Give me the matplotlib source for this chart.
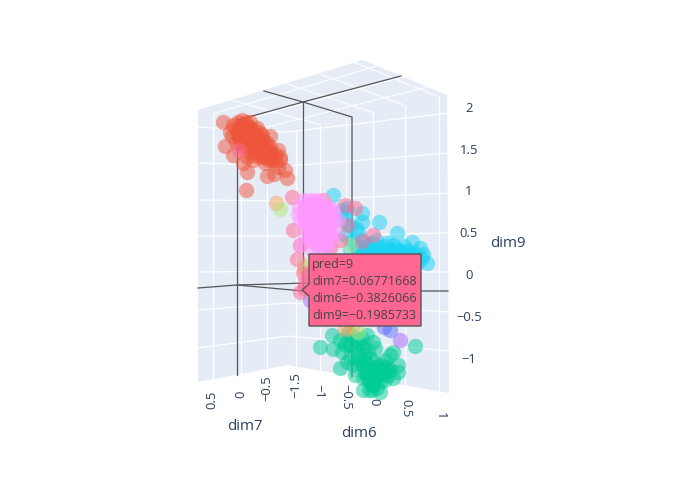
import numpy as np
import matplotlib
matplotlib.use('Agg')
import matplotlib.pyplot as plt
from matplotlib.patches import Polygon

# screen readings of each predicted class, one pair of lists per trace
red_x = [223, 240, 250, 233, 243, 230, 225, 233, 247, 246, 267, 287, 285, 278, 270, 278, 280, 265, 253, 240,
         250, 260, 257, 263, 270, 247, 243, 245, 250, 255, 240, 248, 262, 268, 238, 252, 245, 258, 246, 274,
         235, 240, 245, 250, 255, 238, 243, 248, 253, 258, 263, 240, 245, 250, 255, 260, 265, 270, 245, 250,
         255, 260, 265, 270, 275, 250, 255, 260, 265, 270, 275, 280, 238, 242, 247, 252, 257, 262, 267, 272,
         232, 236]
red_y = [122, 127, 122, 125, 133, 132, 146, 155, 172, 190, 176, 178, 170, 167, 136, 150, 157, 163, 160, 143,
         147, 133, 140, 147, 153, 157, 163, 135, 140, 150, 130, 128, 155, 160, 135, 135, 148, 145, 122, 174,
         128, 128, 128, 128, 130, 134, 134, 134, 136, 138, 140, 140, 140, 141, 142, 145, 145, 147, 146, 148,
         148, 150, 152, 152, 154, 153, 155, 157, 157, 158, 160, 160, 122, 120, 125, 132, 128, 135, 143, 160,
         136, 142]

magenta_x = [306, 313, 320, 310, 316, 322, 305, 311, 318, 325, 308, 314, 320, 327, 312, 318, 324, 310, 316, 322,
             304, 309, 315, 321, 328, 333, 313, 319, 325, 317, 323, 330, 300, 306, 338, 335, 312, 320, 326, 315,
             303, 308, 313, 318, 323, 299, 304, 309, 314, 319, 324, 329, 298, 303, 308, 313, 318, 323, 328, 333,
             300, 305, 310, 315, 320, 325, 330, 335, 305, 310, 315, 320, 325, 330, 310, 315, 320, 325, 330, 313,
             318, 323, 328]
magenta_y = [205, 203, 205, 212, 210, 212, 218, 219, 218, 216, 225, 226, 225, 222, 232, 232, 230, 238, 238, 236,
             211, 225, 205, 220, 228, 210, 215, 212, 208, 245, 243, 240, 245, 237, 220, 233, 250, 252, 250, 228,
             200, 200, 200, 200, 200, 207, 207, 207, 207, 207, 207, 207, 214, 214, 214, 214, 214, 214, 214, 214,
             221, 221, 221, 221, 221, 221, 221, 221, 228, 228, 228, 228, 228, 228, 235, 235, 235, 235, 235, 242,
             242, 242, 242]

cyan_x = [333, 347, 362, 362, 379, 397, 362, 412, 423, 427, 387, 380, 393, 400, 373, 360, 342, 343, 352, 368,
          376, 385, 392, 405, 413, 418, 350, 365, 372, 380, 388, 396, 404, 345, 356, 420, 355, 362, 370, 378,
          385, 392, 400, 408, 365, 375, 383, 395, 403, 412, 358, 350, 345, 417, 422]
cyan_y = [195, 208, 213, 222, 222, 233, 240, 242, 254, 263, 243, 247, 245, 250, 250, 250, 210, 220, 240, 245,
          240, 252, 252, 254, 252, 262, 250, 252, 243, 252, 250, 248, 246, 235, 228, 248, 245, 247, 248, 250,
          246, 249, 251, 251, 254, 255, 254, 254, 253, 256, 232, 225, 214, 255, 258]

green_x = [320, 415, 332, 333, 342, 340, 348, 363, 362, 350, 355, 363, 380, 372, 390, 398, 393, 383, 372, 367,
           377, 360, 375, 370, 380, 363, 387, 368, 373, 347, 353, 358, 366, 375, 371, 378, 364, 385, 369, 374,
           365, 370, 375, 380, 385, 390, 368, 373, 378, 383, 388, 365, 370, 375, 380, 385, 372, 377, 368, 373,
           360, 355, 350, 345, 358, 363, 368, 373, 340, 345, 352, 358, 367, 393, 398]
green_y = [347, 346, 335, 349, 352, 368, 333, 347, 338, 357, 375, 390, 392, 390, 355, 365, 378, 373, 377, 370,
           367, 363, 348, 382, 382, 378, 367, 373, 385, 362, 365, 353, 375, 375, 370, 372, 360, 360, 390, 380,
           355, 358, 362, 365, 368, 370, 365, 368, 372, 372, 375, 372, 375, 378, 375, 380, 385, 388, 380, 382,
           345, 348, 345, 343, 360, 365, 350, 342, 340, 345, 335, 340, 335, 352, 372]

pink_x = [292, 293, 297, 303, 305, 300, 239, 347, 345, 330, 308, 300, 304, 340, 373, 362, 355]
pink_y = [197, 230, 259, 273, 283, 292, 150, 225, 205, 248, 275, 245, 288, 240, 235, 241, 208]

orange_x = [276, 323, 304, 345, 352]
orange_y = [203, 200, 268, 329, 327]

lime_x = [280, 358, 305, 350]
lime_y = [209, 332, 265, 245]

purple_x = [400, 310]
purple_y = [340, 300]

blue_x = [390, 384]
blue_y = [330, 327]

# z axis ticks along the left edge, the corner and the right edge
z_labels = ['2', '1.5', '1', '0.5', '0', '\u22120.5', '\u22121']
z_label_y = [108, 150, 191, 233, 275, 317, 359]
z_left = [127, 163, 200, 236, 272, 310, 348]
z_mid = [132, 166, 201, 236, 271, 303, 336]
z_right = [113, 153, 193, 233, 272, 312, 351]

dim7_labels = ['0.5', '0', '\u22120.5', '\u22121.5']
dim7_x = [212, 241, 267, 296]
dim7_y = [400, 394, 388, 385]
dim6_labels = ['\u22121', '\u22120.5', '0', '0.5', '1']
dim6_x = [319, 346, 374, 406, 440]
dim6_y = [391, 397, 402, 408, 416]

hover_lines = ['pred=9', 'dim7=0.06771668', 'dim6=\u22120.3826066', 'dim9=\u22120.1985733']

PANE = '#E5ECF6'
TEXT = '#2a3f5f'
SPIKE = '#555555'

plt.rcParams['font.family'] = ['Open Sans', 'DejaVu Sans']

fig = plt.figure(figsize=(6.95, 4.94), dpi=100)
ax = fig.add_axes([0, 0, 1, 1])
ax.set_xlim(0, 695)
ax.set_ylim(494, 0)
ax.axis('off')

# panes
ax.add_patch(Polygon([(198, 110), (363, 60), (447, 95), (449, 393), (288, 365), (198, 382)],
                     fc=PANE, ec='none', zorder=1))

# white grid: walls
for a, b, c in zip(z_left, z_mid, z_right):
    ax.plot([198, 288, 449], [a, b, c], color='white', lw=0.9, zorder=2)


def wall_edge(x):
    # top and bottom of a vertical grid line
    if x < 288:
        t = (x - 198) / 90
        return 110 + 22 * t, 382 - 17 * t
    t = (x - 288) / 160
    return 132 - 37 * t, 365 + 28 * t


for x in [213, 241, 267, 296, 320, 346, 373, 405, 439]:
    top, bottom = wall_edge(x)
    ax.plot([x, x], [top, bottom], color='white', lw=0.9, zorder=2)

# white grid: ceiling
A, B, C, D = map(np.array, [(198, 110), (363, 60), (447, 95), (288, 132)])
for t in [0.17, 0.48, 0.77]:
    p, q = A + (D - A) * t, B + (C - B) * t
    ax.plot([p[0], q[0]], [p[1], q[1]], color='white', lw=0.8, zorder=2)
for t in [0.2, 0.53, 0.73, 0.95]:
    p, q = D + (C - D) * t, A + (B - A) * t
    ax.plot([p[0], q[0]], [p[1], q[1]], color='white', lw=0.8, zorder=2)

# hover spikes
spikes = [
    ([264, 303, 352, 352], [91, 102, 117, 377]),
    ([245, 303, 401], [118, 102, 76]),
    ([303, 303], [102, 290]),
    ([238, 245], [120, 118]),
    ([237, 237], [118, 375]),
    ([198, 237, 303, 448], [288, 285, 291, 291]),
    ([237, 308], [285, 283]),
]
for sx, sy in spikes:
    ax.plot(sx, sy, color=SPIKE, lw=0.9, zorder=3)

# points
traces = [
    (green_x, green_y, '#00CC96'),
    (cyan_x, cyan_y, '#19D3F3'),
    (red_x, red_y, '#EF553B'),
    (orange_x, orange_y, '#FFA15A'),
    (lime_x, lime_y, '#B6E880'),
    (purple_x, purple_y, '#AB63FA'),
    (blue_x, blue_y, '#636EFA'),
    (pink_x, pink_y, '#FF6692'),
    (magenta_x, magenta_y, '#FF97FF'),
]
for px, py, col in traces:
    ax.scatter(px, py, s=122, color=col, alpha=0.5, linewidths=0, zorder=4)

# tick labels
for lab, y in zip(z_labels, z_label_y):
    ax.text(469, y, lab, color=TEXT, fontsize=9.4, ha='center', va='center', zorder=6)
for lab, x, y in zip(dim7_labels, dim7_x, dim7_y):
    ax.text(x, y, lab, color=TEXT, fontsize=9.4, rotation=90, ha='center', va='center', zorder=6)
for lab, x, y in zip(dim6_labels, dim6_x, dim6_y):
    ax.text(x, y, lab, color=TEXT, fontsize=9.4, rotation=-90, ha='center', va='center', zorder=6)

ax.text(245, 426, 'dim7', color=TEXT, fontsize=10.8, ha='center', va='center')
ax.text(359, 433, 'dim6', color=TEXT, fontsize=10.8, ha='center', va='center')
ax.text(508, 243, 'dim9', color=TEXT, fontsize=10.8, ha='center', va='center')

# hover box
ax.add_patch(Polygon([(309, 254), (421, 254), (421, 326), (309, 326), (309, 296), (302, 290), (309, 284)],
                     fc='#FF6692', ec='#555555', lw=1, zorder=7))
for i, line in enumerate(hover_lines):
    ax.text(312, 264 + i * 17.3, line, color='#444444', fontsize=9.0, ha='left', va='center', zorder=8)

fig.savefig('out.png', dpi=100)
